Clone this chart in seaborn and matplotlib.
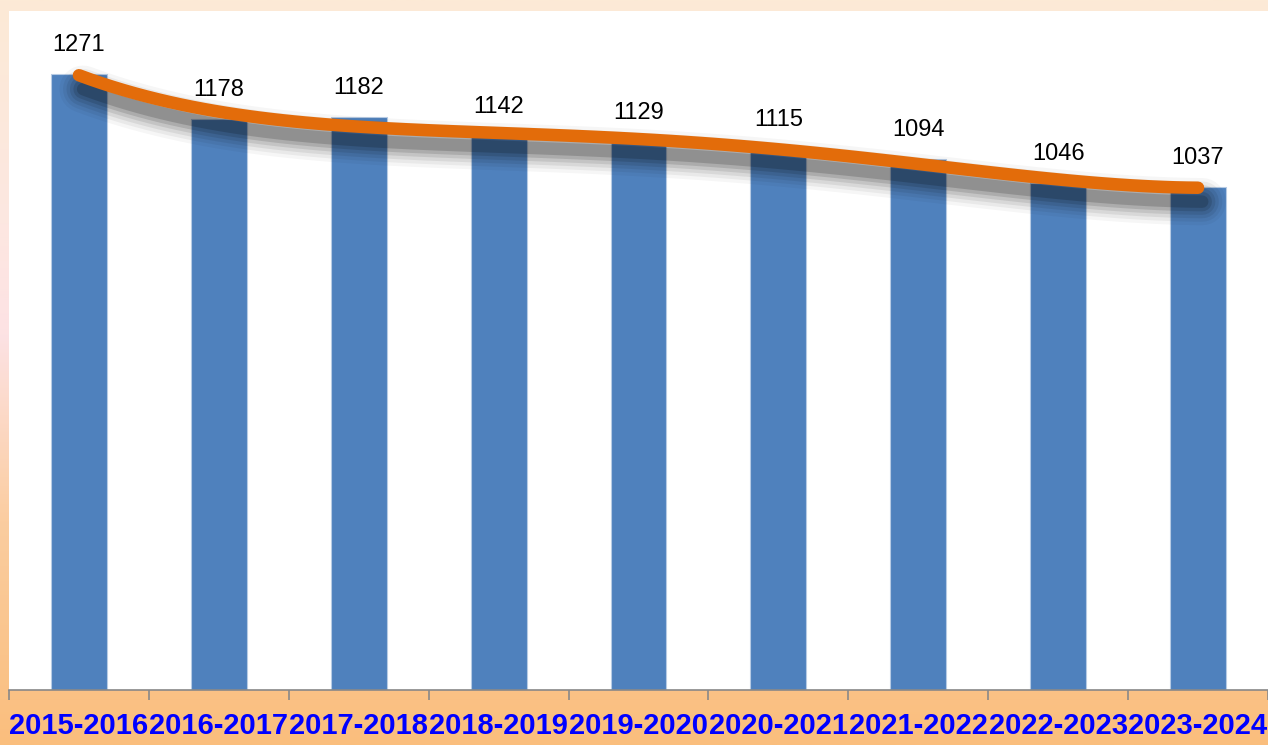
import numpy as np
import pandas as pd
import matplotlib
matplotlib.use("Agg")
import matplotlib.pyplot as plt
import seaborn as sns
import matplotlib.transforms as mtransforms

years = ["2015-2016", "2016-2017", "2017-2018", "2018-2019", "2019-2020",
         "2020-2021", "2021-2022", "2022-2023", "2023-2024"]
values = [1271, 1178, 1182, 1142, 1129, 1115, 1094, 1046, 1037]

df = pd.DataFrame({"year": years, "value": values, "pos": np.arange(len(years))})

sns.set_theme(style="white")
plt.rcParams['font.family'] = ['Liberation Sans', 'DejaVu Sans']

fig = plt.figure(figsize=(12.68, 7.45), dpi=100)

# background gradient
bg = fig.add_axes([0, 0, 1, 1], zorder=-10)
stops = np.array([[252, 234, 214], [253, 231, 225], [253, 226, 228], [251, 205, 160], [250, 190, 125]]) / 255.0
pos = np.array([0.0, 0.3, 0.45, 0.7, 1.0])
ys = np.linspace(0, 1, 300)
grad = np.stack([np.interp(ys, pos, stops[:, c]) for c in range(3)], axis=-1)
bg.imshow(grad[:, None, :], aspect="auto", extent=[0, 1, 1, 0])
bg.set_xlim(0, 1)
bg.set_ylim(1, 0)
bg.axis("off")

ax = fig.add_axes([9 / 1268, 1 - 690 / 745, 1 - 9 / 1268, (690 - 11) / 745])
ax.set_facecolor("white")
sns.barplot(data=df, x="year", y="value", color="#4F81BD", width=0.4,
            edgecolor="#B7CBE4", linewidth=0.8, saturation=1, ax=ax)

# polynomial trendline (order 4) via seaborn
n_before = len(ax.lines)
sns.regplot(data=df, x="pos", y="value", order=4, ci=None, scatter=False,
            truncate=True, line_kws=dict(color="#E36C0A", lw=9,
                                         solid_capstyle="round", zorder=4), ax=ax)
trend = ax.lines[n_before]
tx, ty = trend.get_xdata(), trend.get_ydata()

# blurred shadow under the trendline
for lw, a in [(34, 0.035), (29, 0.05), (24, 0.07), (19, 0.09), (14, 0.12), (9, 0.16)]:
    tr = mtransforms.offset_copy(ax.transData, fig=fig, x=3, y=-10, units="points")
    ax.plot(tx, ty, color="black", lw=lw, alpha=a, solid_capstyle="round",
            transform=tr, zorder=3)

ax.set_xlim(-0.5, len(years) - 0.5)
ax.set_ylim(0, 1400)

for i, v in enumerate(values):
    ax.annotate(str(v), (i, v), xytext=(0, 13), textcoords="offset points",
                ha="center", va="bottom", fontsize=17, color="black", zorder=5)

sns.despine(ax=ax, left=True, top=True, right=True)
ax.spines["bottom"].set_color("#888888")
ax.spines["bottom"].set_linewidth(1.2)
ax.set_yticks([])
ax.set_xlabel("")
ax.set_ylabel("")
ax.set_xticks(np.arange(-0.5, len(years)), minor=True)
ax.tick_params(axis="x", which="minor", bottom=True, length=7, width=1.2, color="#888888")
ax.tick_params(axis="x", which="major", bottom=True, length=0, pad=16)
ax.set_xticks(range(len(years)))
ax.set_xticklabels(years, fontsize=21, fontweight="bold", color="#0000FF")

fig.savefig("out.png", dpi=100)
